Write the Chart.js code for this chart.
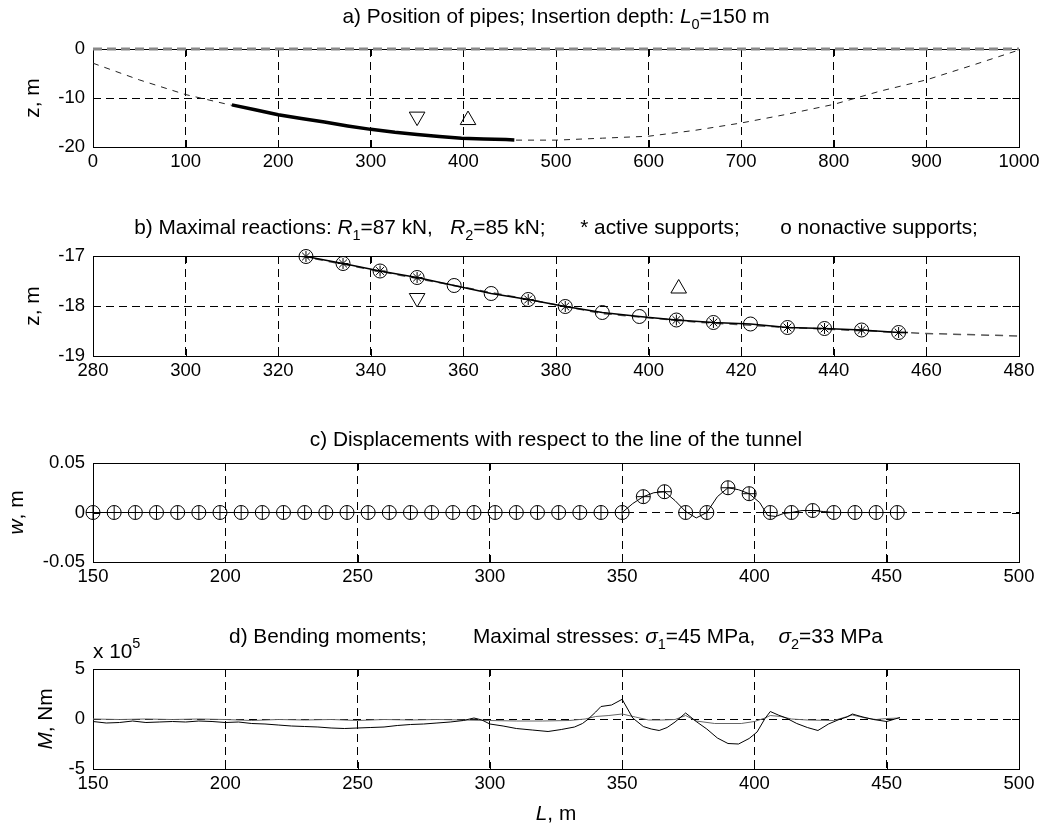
<!DOCTYPE html>
<html>
<head>
<meta charset="utf-8">
<script src="https://cdn.jsdelivr.net/npm/chart.js@4.4.0/dist/chart.umd.min.js"></script>
<style>
  body { margin: 0; background: #fff; }
  #wrap { position: relative; width: 1044px; height: 827px; }
  canvas { position: absolute; left: 0; }
</style>
</head>
<body>
<div id="wrap">
  <canvas id="ca" width="1044" height="180" style="top:0px"></canvas>
  <canvas id="cb" width="1044" height="200" style="top:180px"></canvas>
  <canvas id="cc" width="1044" height="205" style="top:380px"></canvas>
  <canvas id="cd" width="1044" height="242" style="top:585px"></canvas>
</div>
<script>
const FONT = "'Liberation Sans', Arial, Helvetica, sans-serif";
const FS = 18.5;          // tick labels
const FS_LAB = 20.8;      // titles and axis labels
const FS_SMALL = 14.5;    // sub/superscripts

// ---------- a) position of pipes
const aXTicks = [0, 100, 200, 300, 400, 500, 600, 700, 800, 900, 1000];
const aYTicks = [-20, -10, 0];
const aYLabels = ['-20', '-10', '0'];
const groundX = [0, 1000];
const groundZ = [0, 0];
const tunnelX = [0, 50, 100, 150, 200, 250, 300, 350, 400, 450, 500, 550, 600, 650, 700, 750, 800, 850, 900, 950, 1000];
const tunnelZ = [-2.9, -6.3, -9.3, -11.5, -13.4, -15.0, -16.4, -17.4, -18.2, -18.6, -18.6, -18.2, -17.8, -16.6, -15.1, -13.3, -11.3, -8.6, -6.3, -3.3, -0.2];
const pipeX = [150, 175, 200, 225, 250, 275, 300, 326, 350, 374, 398, 422, 446, 455];
const pipeZ = [-11.4, -12.4, -13.4, -14.2, -14.9, -15.7, -16.4, -17.0, -17.43, -17.87, -18.21, -18.36, -18.48, -18.55];
const aDownX = [350], aDownZ = [-13.8];
const aUpX = [405], aUpZ = [-14.5];

// ---------- b) maximal reactions
const bXTicks = [280, 300, 320, 340, 360, 380, 400, 420, 440, 460, 480];
const bYTicks = [-19, -18, -17];
const bYLabels = ['-19', '-18', '-17'];
const supX = [326, 334, 342, 350, 358, 366, 374, 382, 390, 398, 406, 414, 422, 430, 438, 446, 454];
const supZ = [-17.01, -17.15, -17.3, -17.43, -17.59, -17.75, -17.87, -18.01, -18.13, -18.21, -18.28, -18.33, -18.36, -18.43, -18.45, -18.48, -18.53];
const activeX = [326, 334, 342, 350, 374, 382, 406, 414, 430, 438, 446, 454];
const activeZ = [-17.01, -17.15, -17.3, -17.43, -17.87, -18.01, -18.28, -18.33, -18.43, -18.45, -18.48, -18.53];
const bPipeX = [322, 326, 334, 342, 350, 358, 366, 374, 382, 390, 398, 406, 414, 422, 430, 438, 446, 454, 456];
const bPipeZ = [-16.95, -17.01, -17.15, -17.3, -17.43, -17.59, -17.75, -17.87, -18.01, -18.13, -18.21, -18.28, -18.33, -18.36, -18.43, -18.45, -18.48, -18.53, -18.53];
const bTunnelX = [322, 350, 370, 390, 410, 430, 460, 480];
const bTunnelZ = [-16.95, -17.45, -17.8, -18.15, -18.32, -18.43, -18.55, -18.6];
const bDownX = [350], bDownZ = [-17.84];
const bUpX = [406.5], bUpZ = [-17.65];

// ---------- c) displacements
const cXTicks = [150, 200, 250, 300, 350, 400, 450, 500];
const cYTicks = [-0.05, 0, 0.05];
const cYLabels = ['-0.05', '0', '0.05'];
const cMarkX = [150, 158, 166, 174, 182, 190, 198, 206, 214, 222, 230, 238, 246, 254, 262, 270, 278, 286, 294, 302, 310, 318, 326, 334, 342, 350,
                358, 366, 374, 382, 390, 398, 406, 414, 422, 430, 438, 446, 454];
const cMarkW = [0, 0, 0, 0, 0, 0, 0, 0, 0, 0, 0, 0, 0, 0, 0, 0, 0, 0, 0, 0, 0, 0, 0, 0, 0, 0,
                0.016, 0.021, 0, 0, 0.025, 0.019, 0, 0, 0.002, 0, 0, 0, 0];
const cLineX = [150, 350, 354, 358, 362, 366, 370, 374, 378, 382, 386, 390, 394, 398, 402, 405, 408, 411, 414, 418, 422, 426, 430, 454];
const cLineW = [0, 0, 0.009, 0.016, 0.02, 0.021, 0.012, 0.001, -0.0055, 0, 0.016, 0.025, 0.023, 0.019, 0.01, -0.003, -0.004, -0.001, 0, 0.002, 0.002, 0.001, 0, 0];

// ---------- d) bending moments (x 10^5 Nm)
const dXTicks = [150, 200, 250, 300, 350, 400, 450, 500];
const dYTicks = [-5, 0, 5];
const dYLabels = ['-5', '0', '5'];
const m1X = [150, 155, 160, 165, 170, 175, 180, 185, 190, 195, 200, 205, 210, 215, 220, 225, 230, 235, 240, 245, 250, 255, 260, 265, 270, 275, 280, 285, 290, 294, 297, 300, 305, 310, 316, 322, 327, 332, 335, 337, 340, 342, 346, 350, 354, 358, 361, 364, 367, 370, 374, 378, 382, 386, 390, 394, 398, 401, 404, 406, 409, 412, 416, 420, 424, 428, 432, 435, 437, 441, 445, 450, 455];
const m1Y = [-0.25, -0.4, -0.35, -0.2, -0.35, -0.3, -0.25, -0.3, -0.2, -0.25, -0.35, -0.3, -0.45, -0.5, -0.6, -0.7, -0.75, -0.8, -0.9, -0.95, -0.9, -0.85, -0.8, -0.65, -0.55, -0.5, -0.4, -0.3, -0.15, 0.1, -0.1, -0.5, -0.7, -0.95, -1.1, -1.25, -1.05, -0.8, -0.45, -0.05, 0.7, 1.25, 1.4, 1.97, 0.1, -0.75, -1.0, -1.15, -0.85, -0.3, 0.6, -0.25, -1.0, -1.9, -2.45, -2.5, -1.95, -1.3, 0.05, 0.75, 0.4, 0.1, -0.45, -0.85, -1.15, -0.5, -0.05, 0.2, 0.5, 0.2, -0.05, -0.25, 0.15];
const m2X = [150, 160, 170, 180, 190, 200, 210, 220, 230, 240, 250, 260, 270, 280, 290, 300, 310, 320, 330, 336, 340, 345, 350, 355, 360, 365, 370, 374, 378, 385, 395, 400, 404, 406, 410, 414, 420, 430, 437, 442, 446, 450, 455];
const m2Y = [0, -0.05, 0, -0.05, 0, -0.05, -0.15, -0.05, -0.1, -0.05, -0.15, -0.05, -0.1, -0.05, -0.1, -0.15, -0.2, -0.2, -0.15, 0, 0.25, 0.35, 0.5, 0.2, -0.1, -0.1, -0.05, 0.35, -0.2, -0.45, -0.45, -0.25, 0.1, 0.35, 0.25, 0, -0.1, -0.15, 0.4, 0.1, -0.05, 0.05, 0.1];

function pts(xs, ys) { return xs.map((x, i) => ({ x: x, y: ys[i] })); }

function lineDs(xs, ys, color, width, dash, noClip) {
  const ds = { data: pts(xs, ys), showLine: true, borderColor: color, borderWidth: width, borderDash: dash || [],
               pointRadius: 0, pointHoverRadius: 0, fill: false, tension: 0 };
  if (noClip) ds.clip = false;
  return ds;
}
function markDs(xs, ys, style, r, rot) {
  return { data: pts(xs, ys), showLine: false, pointStyle: style, pointRadius: r, pointHoverRadius: r,
           pointRotation: rot || 0, pointBorderColor: '#000', pointBackgroundColor: 'rgba(0,0,0,0)',
           pointBorderWidth: 1, clip: false };
}

function axis(min, max, ticks, labels, pad, fit) {
  return {
    type: 'linear', min: min, max: max,
    afterBuildTicks: s => { s.ticks = ticks.map(v => ({ value: v })); },
    afterFit: fit,
    ticks: { callback: (v, i) => labels[i], color: '#000', font: { family: FONT, size: FS },
             padding: pad, autoSkip: false, maxRotation: 0, minRotation: 0 },
    grid: { color: c => (c.tick && (c.tick.value === min || c.tick.value === max)) ? 'rgba(0,0,0,0)' : '#000',
            lineWidth: 1, drawTicks: false },
    border: { display: false, dash: [8, 5] }
  };
}

function segFont(s) {
  return (s.it ? 'italic ' : '') + ((s.sub || s.sup) ? FS_SMALL : FS_LAB) + 'px ' + FONT;
}
function drawSegs(ctx, segs, x, y, align) {
  let w = 0;
  segs.forEach(s => { ctx.font = segFont(s); w += ctx.measureText(s.t).width; });
  if (align === 'center') x -= w / 2;
  ctx.textAlign = 'left';
  ctx.textBaseline = 'alphabetic';
  ctx.fillStyle = '#000';
  segs.forEach(s => {
    ctx.font = segFont(s);
    ctx.fillText(s.t, x, y + (s.sub ? 6 : s.sup ? -10 : 0));
    x += ctx.measureText(s.t).width;
  });
}

// box, inner ticks, titles and axis labels
const matlabLook = {
  id: 'matlabLook',
  beforeDatasetsDraw(chart) {
    const ctx = chart.ctx, a = chart.chartArea;
    const xs = chart.scales.x, ys = chart.scales.y;
    ctx.save();
    ctx.strokeStyle = '#000';
    ctx.lineWidth = 1;
    ctx.setLineDash([]);
    ctx.strokeRect(Math.round(a.left) + 0.5, Math.round(a.top) + 0.5, Math.round(a.width), Math.round(a.height));
    ctx.beginPath();
    xs.ticks.forEach(t => {
      const px = Math.round(xs.getPixelForValue(t.value)) + 0.5;
      ctx.moveTo(px, a.top); ctx.lineTo(px, a.top + 7);
      ctx.moveTo(px, a.bottom); ctx.lineTo(px, a.bottom - 7);
    });
    ys.ticks.forEach(t => {
      const py = Math.round(ys.getPixelForValue(t.value)) + 0.5;
      ctx.moveTo(a.left, py); ctx.lineTo(a.left + 7, py);
      ctx.moveTo(a.right, py); ctx.lineTo(a.right - 7, py);
    });
    ctx.stroke();
    ctx.restore();
  },
  afterDraw(chart, args, o) {
    const ctx = chart.ctx, a = chart.chartArea;
    ctx.save();
    if (o.title) drawSegs(ctx, o.title, (a.left + a.right) / 2, o.titleY, 'center');
    if (o.yLabel) {
      ctx.save();
      ctx.translate(o.yLabelX, (a.top + a.bottom) / 2);
      ctx.rotate(-Math.PI / 2);
      drawSegs(ctx, o.yLabel, 0, 0, 'center');
      ctx.restore();
    }
    if (o.xLabel) drawSegs(ctx, o.xLabel, (a.left + a.right) / 2, o.xLabelY, 'center');
    if (o.expo) drawSegs(ctx, o.expo, a.left, o.expoY, 'left');
    ctx.restore();
  }
};

function makeChart(id, datasets, sc, deco) {
  const yFit = s => { s.width = 93; };
  const xFit = s => { s.height = sc.xh; };
  return new Chart(document.getElementById(id), {
    type: 'scatter',
    data: { datasets: datasets },
    options: {
      responsive: false, animation: false, devicePixelRatio: 1, events: [],
      layout: { padding: { top: sc.top, right: 25, left: 0, bottom: 0 } },
      plugins: { legend: { display: false }, tooltip: { enabled: false }, matlabLook: deco },
      scales: {
        x: axis(sc.xmin, sc.xmax, sc.xt, sc.xt.map(String), 4, xFit),
        y: axis(sc.ymin, sc.ymax, sc.yt, sc.yl, 8, yFit)
      }
    },
    plugins: [matlabLook]
  });
}

makeChart('ca', [
  markDs(aDownX, aDownZ, 'triangle', 9, 180),
  markDs(aUpX, aUpZ, 'triangle', 9, 0),
  lineDs(pipeX, pipeZ, '#000', 3.5),
  lineDs(tunnelX, tunnelZ, '#222', 1, [6, 6]),
  lineDs(groundX, groundZ, '#888', 3, [9, 5], true)
], { top: 49, xh: 33, xmin: 0, xmax: 1000, xt: aXTicks, ymin: -20, ymax: 0, yt: aYTicks, yl: aYLabels }, {
  title: [{ t: 'a) Position of pipes; Insertion depth: ' }, { t: 'L', it: true }, { t: '0', sub: true }, { t: '=150 m' }],
  titleY: 23,
  yLabel: [{ t: 'z, m' }], yLabelX: 39
});

makeChart('cb', [
  markDs(activeX, activeZ, 'star', 5.5),
  markDs(supX, supZ, 'circle', 7),
  markDs(bDownX, bDownZ, 'triangle', 9, 180),
  markDs(bUpX, bUpZ, 'triangle', 9, 0),
  lineDs(bPipeX, bPipeZ, '#000', 1.5),
  lineDs(bTunnelX, bTunnelZ, '#555', 1.5, [8, 6])
], { top: 76, xh: 24, xmin: 280, xmax: 480, xt: bXTicks, ymin: -19, ymax: -17, yt: bYTicks, yl: bYLabels }, {
  title: [{ t: 'b) Maximal reactions: ' }, { t: 'R', it: true }, { t: '1', sub: true }, { t: '=87 kN,   ' },
          { t: 'R', it: true }, { t: '2', sub: true }, { t: '=85 kN;      * active supports;       o nonactive supports;' }],
  titleY: 54,
  yLabel: [{ t: 'z, m' }], yLabelX: 39
});

makeChart('cc', [
  markDs(cMarkX, cMarkW, 'cross', 7),
  markDs(cMarkX, cMarkW, 'circle', 7),
  lineDs(cLineX, cLineW, '#000', 1)
], { top: 83, xh: 23, xmin: 150, xmax: 500, xt: cXTicks, ymin: -0.05, ymax: 0.05, yt: cYTicks, yl: cYLabels }, {
  title: [{ t: 'c) Displacements with respect to the line of the tunnel' }],
  titleY: 66,
  yLabel: [{ t: 'w', it: true }, { t: ', m' }], yLabelX: 23
});

makeChart('cd', [
  lineDs(m1X, m1Y, '#000', 1),
  lineDs(m2X, m2Y, '#666', 1)
], { top: 84, xh: 58, xmin: 150, xmax: 500, xt: dXTicks, ymin: -5, ymax: 5, yt: dYTicks, yl: dYLabels }, {
  title: [{ t: 'd) Bending moments;        Maximal stresses: ' }, { t: 'σ', it: true }, { t: '1', sub: true },
          { t: '=45 MPa,    ' }, { t: 'σ', it: true }, { t: '2', sub: true }, { t: '=33 MPa' }],
  titleY: 58,
  yLabel: [{ t: 'M', it: true }, { t: ', Nm' }], yLabelX: 52,
  xLabel: [{ t: 'L', it: true }, { t: ', m' }], xLabelY: 235,
  expo: [{ t: 'x 10' }, { t: '5', sup: true }], expoY: 73
});
</script>
</body>
</html>
